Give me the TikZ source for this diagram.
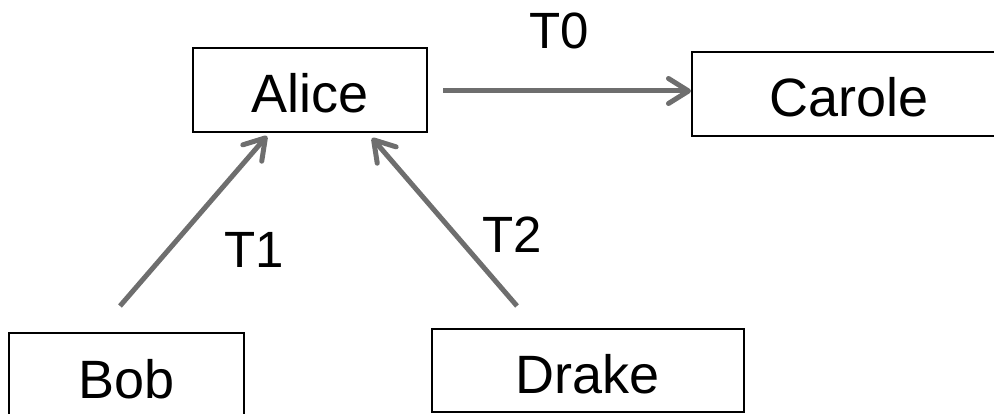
\documentclass[tikz,border=0pt]{standalone}
\usepackage{fontspec}
\setmainfont{Liberation Sans}
\usetikzlibrary{arrows.meta,calc}
\definecolor{arrowgray}{RGB}{110,110,110}
\tikzset{
  person/.style={draw=black, line width=2pt, rectangle, inner sep=0pt,
    font=\fontsize{54}{60}\selectfont, text height=46pt, text depth=0pt},
  tlabel/.style={anchor=base, inner sep=0pt, font=\fontsize{51}{58}\selectfont},
  flow/.style={draw=arrowgray, line width=5pt,
    -{Straight Barb[length=20pt,width=25pt,line cap=round,line join=round]}}
}
\begin{document}
\begin{tikzpicture}[x=1pt,y=-1pt]
\useasboundingbox (0,0) rectangle (994,414);
\clip (0,0) rectangle (994,414);
\node[person, minimum width=234pt, minimum height=84pt] (alice) at (310,90) {Alice};
\node[person, minimum width=315pt, minimum height=84pt] (carole) at (849.5,94) {Carole};
\node[person, minimum width=235pt, minimum height=84pt] (bob) at (126.5,375) {Bob};
\node[person, minimum width=312pt, minimum height=83pt] (drake) at (588,370.5) {Drake};
\coordinate (a0) at ($(alice.east)+(15,1)$);
\draw[flow] (a0) -- (a0 -| carole.west);
\draw[flow] ($(bob.north)+(-6.5,-26)$) -- ($(alice.south)+(-43,3)$);
\draw[flow] ($(drake.north)+(-71,-22)$) -- ($(alice.south)+(62,5)$);
\node[tlabel] (t0) at (559,49) {T0};
\node[tlabel] (t1) at (254.5,268) {T1};
\node[tlabel] (t2) at (512,253) {T2};
\end{tikzpicture}
\end{document}
